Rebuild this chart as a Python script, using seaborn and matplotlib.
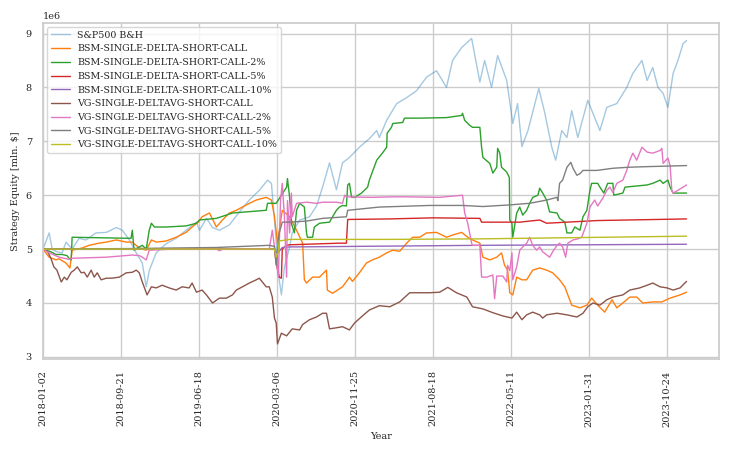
import numpy as np
import pandas as pd
import matplotlib
matplotlib.use('Agg')
import matplotlib.pyplot as plt
import seaborn as sns

# x values are trading-day rows counted from 2018-01-02, equity in mln $
tick_rows = [0, 180, 360, 540, 720, 900, 1080, 1260, 1440]
tick_labels = ['2018-01-02', '2018-09-21', '2019-06-18', '2020-03-06', '2020-11-25',
               '2021-08-18', '2022-05-11', '2023-01-31', '2023-10-24']

sp_x = [0, 14, 21, 32, 44, 53, 67, 83, 99, 122, 146, 169, 183, 199, 215, 229, 238, 245, 261, 284,
        307, 330, 354, 361, 377, 391, 407, 430, 453, 476, 499, 518, 527, 534, 545, 550, 557, 569,
        575, 592, 615, 631, 645, 661, 677, 691, 707, 730, 753, 770, 776, 793, 816, 839, 862, 885,
        908, 931, 945, 966, 989, 1008, 1019, 1035, 1049, 1070, 1084, 1095, 1105, 1119, 1144, 1158,
        1174, 1183, 1197, 1209, 1220, 1234, 1257, 1273, 1285, 1301, 1324, 1347, 1361, 1382, 1394,
        1407, 1419, 1431, 1442, 1454, 1465, 1477, 1485]
sp_y = [5.0, 5.3, 5.0, 4.95, 4.93, 5.13, 5.0, 5.2, 5.17, 5.3, 5.31, 5.4, 5.35, 5.17, 4.93, 4.74, 4.3,
        4.6, 4.93, 5.1, 5.2, 5.35, 5.5, 5.35, 5.57, 5.4, 5.35, 5.45, 5.69, 5.91, 6.09, 6.28, 6.22,
        5.54, 4.43, 4.15, 4.67, 5.04, 5.3, 5.54, 5.6, 5.8, 6.15, 6.6, 6.1, 6.6, 6.7, 6.89, 7.05, 7.2,
        7.07, 7.39, 7.7, 7.81, 7.94, 8.19, 8.31, 8.0, 8.5, 8.74, 8.91, 8.1, 8.5, 8.0, 8.59, 8.13,
        7.33, 7.7, 6.9, 7.2, 7.98, 7.52, 6.89, 6.65, 7.2, 7.07, 7.57, 7.07, 7.76, 7.44, 7.2, 7.63,
        7.7, 8.0, 8.26, 8.5, 8.13, 8.37, 8.0, 7.89, 7.63, 8.26, 8.5, 8.81, 8.87]

bsm_x = [0, 14, 30, 37, 53, 62, 67, 90, 106, 129, 146, 169, 192, 206, 222, 238, 250, 261, 284, 307,
         330, 344, 358, 367, 384, 400, 414, 430, 446, 476, 492, 515, 527, 534, 541, 552, 569, 585,
         599, 603, 608, 622, 638, 654, 656, 668, 691, 703, 707, 714, 730, 746, 760, 776, 793, 807,
         823, 839, 853, 869, 885, 908, 931, 945, 966, 980, 991, 1008, 1015, 1031, 1047, 1058, 1065,
         1072, 1077, 1084, 1093, 1105, 1116, 1130, 1146, 1162, 1176, 1192, 1204, 1211, 1220, 1239,
         1255, 1266, 1280, 1296, 1313, 1324, 1338, 1354, 1370, 1384, 1407, 1428, 1447, 1470, 1485]
bsm_y = [5.0, 4.85, 4.8, 4.82, 4.74, 4.65, 4.98, 5.02, 5.07, 5.11, 5.13, 5.17, 5.13, 5.13, 5.02,
         4.98, 5.17, 5.13, 5.15, 5.22, 5.31, 5.41, 5.5, 5.6, 5.67, 5.41, 5.54, 5.67, 5.72, 5.85,
         5.91, 5.96, 5.91, 5.6, 5.11, 5.72, 5.6, 5.35, 5.11, 4.43, 4.37, 4.48, 4.48, 4.61, 4.24,
         4.18, 4.3, 4.43, 4.48, 4.4, 4.56, 4.74, 4.8, 4.85, 4.93, 4.98, 4.96, 5.11, 5.22, 5.22, 5.3,
         5.31, 5.22, 5.26, 5.31, 5.22, 5.17, 5.11, 4.85, 4.8, 4.85, 4.93, 4.7, 4.61, 4.19, 4.15,
         4.48, 4.43, 4.43, 4.61, 4.65, 4.61, 4.56, 4.43, 4.3, 4.15, 3.96, 3.91, 3.96, 4.09, 3.96,
         3.83, 4.06, 3.91, 4.0, 4.11, 4.11, 4.0, 4.02, 4.02, 4.09, 4.15, 4.2]

bsm2_x = [0, 18, 30, 44, 55, 60, 65, 67, 203, 206, 210, 222, 229, 238, 245, 250, 257, 284, 330,
          354, 361, 400, 437, 515, 518, 538, 562, 564, 569, 573, 580, 585, 592, 603, 608, 610, 622,
          626, 638, 661, 668, 677, 684, 691, 700, 703, 707, 712, 719, 735, 749, 753, 770, 783, 793,
          794, 804, 807, 830, 834, 869, 931, 966, 968, 973, 984, 991, 1008, 1012, 1015, 1031, 1038,
          1047, 1049, 1054, 1058, 1070, 1076, 1077, 1082, 1084, 1093, 1100, 1107, 1116, 1123, 1130,
          1142, 1146, 1153, 1162, 1169, 1186, 1192, 1204, 1209, 1220, 1227, 1239, 1246, 1255, 1262,
          1266, 1280, 1285, 1294, 1303, 1315, 1317, 1338, 1343, 1394, 1407, 1424, 1431, 1442, 1447,
          1454, 1485]
bsm2_y = [5.0, 4.95, 4.9, 4.9, 4.88, 4.83, 4.8, 5.22, 5.2, 5.35, 4.98, 5.04, 5.07, 5.0, 5.35,
          5.48, 5.41, 5.41, 5.43, 5.48, 5.54, 5.57, 5.67, 5.72, 5.85, 5.85, 6.15, 6.31, 5.96, 5.48,
          5.3, 5.72, 5.85, 5.78, 5.3, 5.22, 5.22, 5.41, 5.48, 5.5, 5.6, 5.72, 5.78, 5.81, 5.8, 6.19,
          6.22, 5.96, 5.96, 6.04, 6.15, 6.28, 6.65, 6.78, 6.89, 7.15, 7.26, 7.33, 7.35, 7.43, 7.43,
          7.44, 7.48, 7.52, 7.39, 7.3, 7.26, 7.26, 6.89, 6.7, 6.59, 6.41, 6.52, 6.87, 6.78, 6.52,
          6.43, 6.33, 5.54, 5.48, 5.22, 5.67, 5.78, 5.63, 5.72, 5.85, 5.96, 6.0, 6.13, 6.04, 5.91,
          5.69, 5.67, 5.57, 5.5, 5.3, 5.3, 5.41, 5.35, 5.6, 5.72, 6.09, 6.22, 6.22, 6.15, 6.04, 6.22,
          6.22, 6.0, 6.04, 6.15, 6.19, 6.22, 6.28, 6.22, 6.28, 6.15, 6.04, 6.04]

bsm5_x = [0, 534, 538, 545, 550, 552, 562, 569, 684, 700, 703, 800, 900, 1008, 1012, 1100, 1146,
          1162, 1209, 1280, 1485]
bsm5_y = [5.0, 5.0, 4.74, 4.48, 4.46, 5.0, 5.07, 5.08, 5.11, 5.11, 5.55, 5.56, 5.58, 5.57, 5.5,
          5.5, 5.54, 5.48, 5.5, 5.53, 5.56]

bsm10_x = [0, 534, 541, 552, 569, 1008, 1485]
bsm10_y = [5.0, 5.0, 4.92, 5.03, 5.04, 5.07, 5.09]

vg_x = [0, 9, 18, 25, 32, 42, 49, 55, 65, 72, 79, 88, 95, 102, 111, 118, 125, 134, 146, 159, 176,
        192, 206, 215, 222, 229, 240, 250, 261, 275, 291, 307, 321, 337, 344, 354, 367, 377, 391,
        407, 423, 437, 446, 460, 476, 492, 499, 515, 522, 529, 534, 538, 541, 550, 562, 575, 592,
        599, 615, 631, 645, 654, 661, 677, 691, 707, 719, 737, 753, 776, 800, 823, 846, 869, 892,
        915, 934, 954, 978, 991, 1015, 1038, 1061, 1082, 1093, 1105, 1116, 1130, 1146, 1153, 1162,
        1186, 1209, 1232, 1246, 1257, 1269, 1285, 1301, 1315, 1338, 1354, 1377, 1394, 1407, 1424,
        1440, 1454, 1470, 1481, 1485]
vg_y = [5.0, 4.98, 4.83, 4.67, 4.61, 4.39, 4.48, 4.43, 4.57, 4.61, 4.67, 4.56, 4.57, 4.48, 4.61,
        4.48, 4.56, 4.43, 4.46, 4.46, 4.48, 4.56, 4.57, 4.61, 4.56, 4.39, 4.15, 4.3, 4.28, 4.33,
        4.28, 4.24, 4.3, 4.28, 4.37, 4.2, 4.24, 4.15, 4.0, 4.09, 4.09, 4.15, 4.24, 4.3, 4.37, 4.43,
        4.46, 4.3, 4.3, 4.11, 3.72, 3.63, 3.24, 3.44, 3.39, 3.52, 3.5, 3.6, 3.69, 3.74, 3.81, 3.81,
        3.52, 3.54, 3.56, 3.5, 3.63, 3.76, 3.87, 3.95, 3.93, 4.02, 4.19, 4.19, 4.19, 4.2, 4.29,
        4.19, 4.11, 3.93, 3.89, 3.82, 3.76, 3.72, 3.83, 3.69, 3.78, 3.83, 3.78, 3.72, 3.78, 3.81,
        3.78, 3.74, 3.81, 3.93, 4.0, 3.96, 4.06, 4.11, 4.15, 4.24, 4.28, 4.33, 4.37, 4.3, 4.28,
        4.24, 4.28, 4.37, 4.4]

vg2_x = [0, 14, 37, 60, 67, 146, 206, 222, 229, 238, 245, 300, 400, 407, 415, 522, 529, 538, 543,
         548, 552, 557, 562, 564, 569, 573, 575, 585, 608, 631, 645, 677, 691, 696, 700, 760, 807,
         839, 915, 968, 973, 980, 989, 991, 1008, 1012, 1024, 1038, 1042, 1047, 1061, 1070, 1072,
         1077, 1082, 1084, 1093, 1100, 1107, 1116, 1123, 1130, 1139, 1146, 1153, 1169, 1176, 1186,
         1192, 1199, 1206, 1211, 1223, 1234, 1243, 1255, 1262, 1273, 1280, 1292, 1301, 1308, 1315,
         1324, 1338, 1347, 1354, 1361, 1370, 1382, 1394, 1407, 1424, 1428, 1431, 1442, 1447, 1451,
         1454, 1465, 1485]
vg2_y = [5.0, 4.93, 4.85, 4.81, 4.83, 4.85, 4.89, 4.88, 4.85, 4.8, 4.98, 5.0, 5.0, 4.97, 5.0, 5.0,
         5.35, 4.8, 4.48, 5.91, 6.22, 5.6, 4.48, 5.9, 5.3, 6.04, 5.6, 5.85, 5.87, 5.85, 5.87, 5.87,
         5.85, 6.0, 5.97, 5.96, 5.97, 5.97, 5.96, 6.0, 5.67, 5.48, 5.11, 5.07, 5.07, 4.48, 4.48,
         4.52, 4.08, 4.5, 4.5, 4.39, 4.7, 4.6, 4.93, 4.43, 4.67, 4.98, 5.04, 5.11, 5.22, 5.07, 4.98,
         5.04, 4.95, 4.85, 4.95, 5.07, 5.11, 5.04, 4.85, 5.11, 5.17, 5.19, 5.22, 5.48, 5.78, 5.91,
         5.8, 5.95, 6.09, 6.15, 6.05, 6.22, 6.28, 6.46, 6.65, 6.78, 6.65, 6.89, 6.8, 6.78, 6.83,
         6.87, 6.59, 6.69, 6.55, 6.09, 6.04, 6.09, 6.19]

vg5_x = [0, 200, 400, 522, 534, 538, 545, 552, 569, 608, 645, 700, 703, 776, 892, 968, 1015, 1077,
         1123, 1162, 1186, 1188, 1192, 1199, 1209, 1218, 1223, 1232, 1239, 1246, 1278, 1315, 1354,
         1394, 1485]
vg5_y = [5.0, 5.01, 5.03, 5.07, 5.05, 4.7, 5.3, 5.5, 5.5, 5.52, 5.57, 5.6, 5.72, 5.78, 5.81, 5.81,
         5.79, 5.82, 5.85, 5.91, 5.96, 5.9, 6.22, 6.28, 6.52, 6.61, 6.5, 6.37, 6.4, 6.46, 6.46, 6.5,
         6.52, 6.53, 6.55]

vg10_x = [0, 534, 538, 543, 545, 569, 800, 1008, 1200, 1485]
vg10_y = [5.0, 5.0, 4.85, 4.95, 5.15, 5.18, 5.18, 5.19, 5.21, 5.24]

series = [
    ('S&P500 B&H', sp_x, sp_y),
    ('BSM-SINGLE-DELTA-SHORT-CALL', bsm_x, bsm_y),
    ('BSM-SINGLE-DELTA-SHORT-CALL-2%', bsm2_x, bsm2_y),
    ('BSM-SINGLE-DELTA-SHORT-CALL-5%', bsm5_x, bsm5_y),
    ('BSM-SINGLE-DELTA-SHORT-CALL-10%', bsm10_x, bsm10_y),
    ('VG-SINGLE-DELTAVG-SHORT-CALL', vg_x, vg_y),
    ('VG-SINGLE-DELTAVG-SHORT-CALL-2%', vg2_x, vg2_y),
    ('VG-SINGLE-DELTAVG-SHORT-CALL-5%', vg5_x, vg5_y),
    ('VG-SINGLE-DELTAVG-SHORT-CALL-10%', vg10_x, vg10_y),
]

sns.set_theme(style='whitegrid')
plt.rcParams['font.family'] = ['DejaVu Serif']

fig, ax = plt.subplots(figsize=(7.3, 4.53), dpi=100)
fig.subplots_adjust(left=0.059, right=0.985, top=0.949, bottom=0.207)

colors = sns.color_palette('tab10')
for i, (name, xs, ys) in enumerate(series):
    df = pd.DataFrame({'row': xs, 'equity': np.array(ys) * 1e6})
    sns.lineplot(data=df, x='row', y='equity', ax=ax, label=name, color=colors[i],
                 linewidth=1.0, alpha=0.4 if i == 0 else 1.0)

ax.set_xlim(0, 1560)
ax.set_xticks(tick_rows)
ax.set_xticklabels(tick_labels, rotation=90)
ax.tick_params(axis='both', labelsize=7, pad=2)
ax.yaxis.get_offset_text().set_fontsize(7)
ax.set_xlabel('Year', fontsize=7)
ax.set_ylabel('Strategy Equity [mln. $]', fontsize=7)
for s in ax.spines.values():
    s.set_color('#cccccc')
ax.legend(loc='upper left', fontsize=6.8, frameon=True, borderaxespad=0.4,
          handlelength=2.0, labelspacing=0.5)

fig.savefig('out.png', dpi=100)
